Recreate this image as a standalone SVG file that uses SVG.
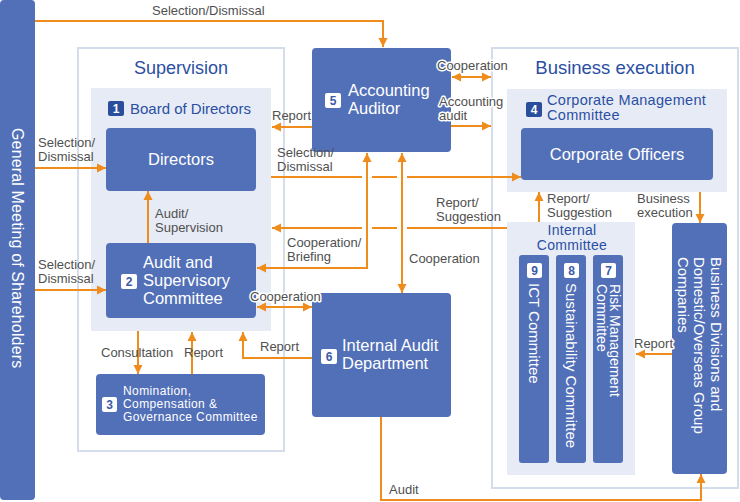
<svg xmlns="http://www.w3.org/2000/svg" width="740" height="502" viewBox="0 0 740 502">
<defs>
<marker id="ah" viewBox="0 0 10 10" markerUnits="userSpaceOnUse" markerWidth="9" markerHeight="10" refX="10" refY="5" orient="auto-start-reverse">
<path d="M0,0 L10,5 L0,10 z" fill="#ef8c1c"/>
</marker>
<style>
.box{fill:#5270b8}
.area{fill:#e7ebf5}
.outline{fill:#fff;stroke:#d5ddec;stroke-width:2}
.conn{fill:none;stroke:#ef8c1c;stroke-width:2}
.lbl{font-family:"Liberation Sans",Arial,sans-serif;font-size:13px;fill:#505050}
.halo{stroke:#fff;stroke-width:3;stroke-linejoin:round;paint-order:stroke}
.nt{font-family:"Liberation Sans",Arial,sans-serif;font-size:16.5px;fill:#fff}
.sm{font-family:"Liberation Sans",Arial,sans-serif;font-size:12px;letter-spacing:0.4px;fill:#fff}
.vt{font-family:"Liberation Sans",Arial,sans-serif;font-size:15px;fill:#fff}
.ttl{font-family:"Liberation Sans",Arial,sans-serif;fill:#2a4fa3}
.bw{fill:#fff}
.bd{fill:#2a4d9c}
.bnw{font-family:"Liberation Sans",Arial,sans-serif;font-size:12px;font-weight:bold;fill:#3b5aa8;text-anchor:middle}
.bnd{font-family:"Liberation Sans",Arial,sans-serif;font-size:12px;font-weight:bold;fill:#fff;text-anchor:middle}
</style>
</defs>
<rect width="740" height="502" fill="#fff"/>

<g id="shareholders">
<rect class="box" x="0" y="0" width="35" height="500" rx="4"/>
<text class="vt" transform="translate(17.5,128) rotate(90)" x="0" y="5.7" style="font-size:16px;letter-spacing:0.15px">General Meeting of Shareholders</text>
</g>

<g id="supervision">
<rect class="outline" x="78" y="48" width="206" height="403"/>
<text class="ttl" x="181" y="74" text-anchor="middle" font-size="18">Supervision</text>
</g>

<g id="board">
<rect class="area" x="91" y="88" width="180" height="243"/>
<rect class="bd" x="108" y="101" width="16" height="15" rx="2"/>
<text class="bnd" x="116" y="113">1</text>
<text class="ttl" x="130" y="114" font-size="15">Board of Directors</text>
</g>

<g id="directors">
<rect class="box" x="106" y="128" width="150" height="63" rx="4"/>
<text class="nt" x="181" y="165" text-anchor="middle">Directors</text>
</g>

<g id="audit-committee">
<rect class="box" x="106" y="243" width="150" height="75" rx="4"/>
<rect class="bw" x="121" y="274" width="16" height="15" rx="2"/>
<text class="bnw" x="129" y="286">2</text>
<text class="nt" x="143" y="268">Audit and</text>
<text class="nt" x="143" y="286">Supervisory</text>
<text class="nt" x="143" y="304">Committee</text>
</g>

<g id="nomination">
<rect class="box" x="96" y="374" width="169" height="61" rx="4"/>
<rect class="bw" x="102" y="397" width="15" height="15" rx="2"/>
<text class="bnw" x="109.5" y="409">3</text>
<text class="sm" x="123" y="395">Nomination,</text>
<text class="sm" x="123" y="408">Compensation &amp;</text>
<text class="sm" x="123" y="421">Governance Committee</text>
</g>

<g id="accounting-auditor">
<rect class="box" x="312" y="48" width="139" height="104" rx="4"/>
<rect class="bw" x="325" y="93" width="16" height="15" rx="2"/>
<text class="bnw" x="333" y="105">5</text>
<text class="nt" x="348" y="96">Accounting</text>
<text class="nt" x="348" y="114">Auditor</text>
</g>

<g id="internal-audit">
<rect class="box" x="312" y="293" width="139" height="124" rx="4"/>
<rect class="bw" x="321" y="349" width="16" height="15" rx="2"/>
<text class="bnw" x="329" y="361">6</text>
<text class="nt" x="342" y="351">Internal Audit</text>
<text class="nt" x="342" y="369">Department</text>
</g>

<g id="business-execution">
<rect class="outline" x="492" y="48" width="246" height="440"/>
<text class="ttl" x="615" y="74" text-anchor="middle" font-size="18.5">Business execution</text>
</g>

<g id="corporate-management">
<rect class="area" x="507" y="89" width="220" height="103"/>
<rect class="bd" x="526" y="102" width="16" height="15" rx="2"/>
<text class="bnd" x="534" y="114">4</text>
<text class="ttl" x="547" y="105" font-size="14.5" letter-spacing="0.3">Corporate Management</text>
<text class="ttl" x="547" y="120" font-size="14.5" letter-spacing="0.3">Committee</text>
</g>

<g id="corporate-officers">
<rect class="box" x="521" y="128" width="192" height="52" rx="4"/>
<text class="nt" x="617" y="160" text-anchor="middle">Corporate Officers</text>
</g>

<g id="internal-committee">
<rect class="area" x="507" y="222" width="128" height="253"/>
<text class="ttl" x="572" y="235" text-anchor="middle" font-size="14" letter-spacing="0.3">Internal</text>
<text class="ttl" x="572" y="250" text-anchor="middle" font-size="14" letter-spacing="0.3">Committee</text>
</g>

<g id="ict-committee">
<rect class="box" x="519" y="255" width="30" height="208" rx="3"/>
<rect class="bw" x="527" y="263" width="15" height="15" rx="2"/>
<text class="bnw" x="534.5" y="275">9</text>
<text class="vt" transform="translate(534,283) rotate(90)" x="0" y="5.4">ICT Committee</text>
</g>

<g id="sustainability-committee">
<rect class="box" x="556" y="255" width="30" height="208" rx="3"/>
<rect class="bw" x="564" y="263" width="15" height="15" rx="2"/>
<text class="bnw" x="571.5" y="275">8</text>
<text class="vt" transform="translate(571,283) rotate(90)" x="0" y="5.4">Sustainability Committee</text>
</g>

<g id="risk-committee">
<rect class="box" x="593" y="255" width="30" height="208" rx="3"/>
<rect class="bw" x="601" y="263" width="15" height="15" rx="2"/>
<text class="bnw" x="608.5" y="275">7</text>
<text class="vt" transform="translate(615,284) rotate(90)" x="0" y="5" style="font-size:14px">Risk Management</text>
<text class="vt" transform="translate(601.5,284) rotate(90)" x="0" y="5" style="font-size:14px">Committee</text>
</g>

<g id="business-divisions">
<rect class="box" x="672" y="223" width="55" height="251" rx="4"/>
<text class="vt" transform="translate(716,257) rotate(90)" x="0" y="5.4">Business Divisions and</text>
<text class="vt" transform="translate(699.5,257) rotate(90)" x="0" y="5.4">Domestic/Overseas Group</text>
<text class="vt" transform="translate(683,257) rotate(90)" x="0" y="5.4">Companies</text>
</g>

<g id="connectors">
<path class="conn" d="M35,21 H383 V47" marker-end="url(#ah)"/>
<path class="conn" d="M35,168 H106" marker-end="url(#ah)"/>
<path class="conn" d="M35,290 H106" marker-end="url(#ah)"/>
<path class="conn" d="M148,243 V191" marker-end="url(#ah)"/>
<path class="conn" d="M138,331 V374" marker-end="url(#ah)"/>
<path class="conn" d="M192,374 V332" marker-end="url(#ah)"/>
<path class="conn" d="M312,358 H243 V332" marker-end="url(#ah)"/>
<path class="conn" d="M257,307 H312" marker-start="url(#ah)" marker-end="url(#ah)"/>
<path class="conn" d="M367,153 V268 H257" marker-start="url(#ah)" marker-end="url(#ah)"/>
<path class="conn" d="M402,153 V293" marker-start="url(#ah)" marker-end="url(#ah)"/>
<path class="conn" d="M312,127 H272" marker-end="url(#ah)"/>
<path class="conn" d="M452,77 H491" marker-start="url(#ah)" marker-end="url(#ah)"/>
<path class="conn" d="M451,126 H491" marker-end="url(#ah)"/>
<path class="conn" d="M271,177 H362 M372,177 H397 M407,177 H521" marker-end="url(#ah)"/>
<path class="conn" d="M507,228 H407 M397,228 H372 M362,228 H272" marker-end="url(#ah)"/>
<path class="conn" d="M539,222 V192" marker-end="url(#ah)"/>
<path class="conn" d="M700,192 V223" marker-end="url(#ah)"/>
<path class="conn" d="M672,354 H636" marker-end="url(#ah)"/>
<path class="conn" d="M381,417 V500 H701 V474" marker-end="url(#ah)"/>

<text class="lbl" x="152" y="15">Selection/Dismissal</text>
<text class="lbl" x="38" y="147">Selection/</text>
<text class="lbl" x="38" y="161">Dismissal</text>
<text class="lbl" x="38" y="269">Selection/</text>
<text class="lbl" x="38" y="283">Dismissal</text>
<text class="lbl" x="155" y="218">Audit/</text>
<text class="lbl" x="155" y="232">Supervision</text>
<text class="lbl" x="101" y="357">Consultation</text>
<text class="lbl" x="184" y="357">Report</text>
<text class="lbl" x="260" y="351">Report</text>
<text class="lbl" x="287" y="247">Cooperation/</text>
<text class="lbl" x="287" y="261">Briefing</text>
<text class="lbl" x="409" y="263">Cooperation</text>
<text class="lbl halo" x="250" y="301">Cooperation</text>
<text class="lbl" x="272" y="120">Report</text>
<text class="lbl" x="277" y="157">Selection/</text>
<text class="lbl" x="277" y="171">Dismissal</text>
<text class="lbl" x="436" y="207">Report/</text>
<text class="lbl" x="436" y="221">Suggestion</text>
<text class="lbl halo" x="437" y="70">Cooperation</text>
<text class="lbl halo" x="439" y="106">Accounting</text>
<text class="lbl halo" x="439" y="120">audit</text>
<text class="lbl" x="547" y="203">Report/</text>
<text class="lbl" x="547" y="217">Suggestion</text>
<text class="lbl" x="637" y="203">Business</text>
<text class="lbl" x="637" y="217">execution</text>
<text class="lbl halo" x="634" y="348">Report</text>
<text class="lbl" x="389" y="494">Audit</text>
</g>
</svg>
